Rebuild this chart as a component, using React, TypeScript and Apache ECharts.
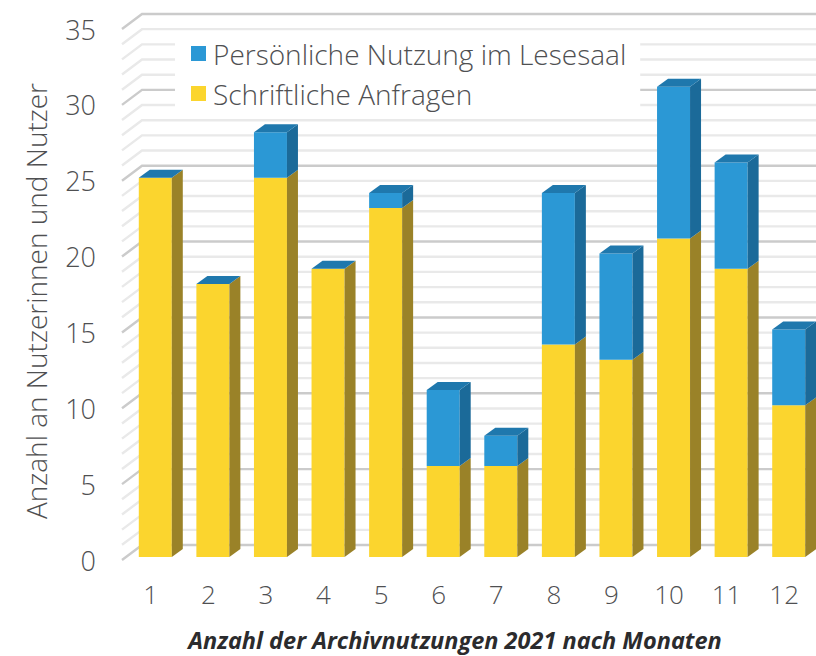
import React, { useEffect, useRef } from "react";
import * as echarts from "echarts";

const months = ["1", "2", "3", "4", "5", "6", "7", "8", "9", "10", "11", "12"];
const schriftlich = [25, 18, 25, 19, 23, 6, 6, 14, 13, 21, 19, 10];
const persoenlich = [0, 0, 3, 0, 1, 5, 2, 10, 7, 10, 7, 5];
const gridValues = [0, 1, 2, 3, 4, 5, 6, 7, 8, 9, 10, 11, 12, 13, 14, 15, 16, 17, 18, 19, 20, 21, 22, 23, 24, 25, 26, 27, 28, 29, 30, 31, 32, 33, 34, 35];
const nameBlue = "Persönliche Nutzung im Lesesaal";
const nameYellow = "Schriftliche Anfragen";
const yTitle = "Anzahl an Nutzerinnen und Nutzer";
const chartTitle = "Anzahl der Archivnutzungen 2021 nach Monaten";

const FONT = "Open Sans";
const TEXT = "#4f5052";
const BAR_W = 33;
const BAR_DX = 11;
const BAR_DY = 8;
const BAR_OFF_X = 4.5;
const BAR_OFF_Y = -3;
const WALL_DX = 20;
const WALL_DY = 15;

const barRender = (front: string, side: string, top: string | null) => (_p: any, api: any) => {
  const i = api.value(0);
  const a = api.coord([i, api.value(1)]);
  const b = api.coord([i, api.value(2)]);
  const x0 = a[0] + BAR_OFF_X - BAR_W / 2;
  const x1 = x0 + BAR_W;
  const yb = a[1] + BAR_OFF_Y;
  const yt = b[1] + BAR_OFF_Y;
  const children: any[] = [];
  if (yb - yt > 0) {
    children.push({ type: "rect", shape: { x: x0, y: yt, width: BAR_W, height: yb - yt }, style: { fill: front } });
    children.push({
      type: "polygon",
      shape: { points: [[x1, yb], [x1 + BAR_DX, yb - BAR_DY], [x1 + BAR_DX, yt - BAR_DY], [x1, yt]] },
      style: { fill: side },
    });
  }
  if (top) {
    children.push({
      type: "polygon",
      shape: { points: [[x0, yt], [x1, yt], [x1 + BAR_DX, yt - BAR_DY], [x0 + BAR_DX, yt - BAR_DY]] },
      style: { fill: top },
    });
  }
  return { type: "group", children };
};

const gridRender = (p: any, api: any) => {
  const v = api.value(1);
  const c = api.coord([0, v]);
  const sys = p.coordSys;
  const x = sys.x;
  const y = c[1];
  return {
    type: "polyline",
    shape: { points: [[x, y], [x + WALL_DX, y - WALL_DY], [x + sys.width + 10, y - WALL_DY]] },
    style: { fill: "none", stroke: v % 5 === 0 ? "#cbcbcb" : "#e9e9e9", lineWidth: 2.4 },
  };
};

export default function App() {
  const ref = useRef<HTMLDivElement>(null);
  useEffect(() => {
    const chart = echarts.init(ref.current!, undefined, { renderer: "svg" });
    chart.setOption({
      animation: false,
      backgroundColor: "#fff",
      grid: { left: 122, right: 3, top: 29, bottom: 96 },
      title: {
        text: chartTitle,
        left: 455,
        textAlign: "center",
        top: 628,
        padding: 0,
        textStyle: { fontFamily: FONT, fontSize: 23.5, lineHeight: 24, fontStyle: "italic", fontWeight: "bold", color: "#2b2b2d" },
      },
      legend: {
        data: [nameBlue, nameYellow],
        orient: "vertical",
        left: 175,
        top: 36,
        padding: [3.5, 14, 3.5, 16],
        backgroundColor: "#fff",
        icon: "rect",
        itemWidth: 15,
        itemHeight: 15,
        itemGap: 12,
        textStyle: { fontFamily: FONT, fontSize: 28, fontWeight: 300, color: TEXT, padding: [0, 0, 6, 2] },
      },
      xAxis: {
        type: "category",
        data: months,
        axisLine: { show: false },
        axisTick: { show: false },
        axisLabel: { fontFamily: FONT, fontSize: 26, fontWeight: 300, color: TEXT, margin: 21 },
      },
      yAxis: {
        type: "value",
        min: 0,
        max: 35,
        interval: 5,
        axisLine: { show: false },
        axisTick: { show: false },
        splitLine: { show: false },
        axisLabel: { fontFamily: FONT, fontSize: 27, fontWeight: 300, color: TEXT, margin: 26 },
        name: yTitle,
        nameLocation: "middle",
        nameGap: 72,
        nameTextStyle: { fontFamily: FONT, fontSize: 28, fontWeight: 300, color: TEXT, padding: [0, 13, 0, 0] },
      },
      series: [
        {
          type: "custom",
          name: "grid",
          z: 1,
          renderItem: gridRender,
          encode: { x: 0, y: 1 },
          data: gridValues.map((v) => [0, v]),
        },
        {
          type: "custom",
          name: nameYellow,
          z: 2,
          itemStyle: { color: "#fbd52e" },
          renderItem: barRender("#fbd52e", "#9a8228", null),
          encode: { x: 0, y: [1, 2] },
          data: months.map((_, i) => [i, 0, schriftlich[i]]),
        },
        {
          type: "custom",
          name: nameBlue,
          z: 3,
          itemStyle: { color: "#2b98d5" },
          renderItem: barRender("#2b98d5", "#1b6a99", "#1f78ad"),
          encode: { x: 0, y: [1, 2] },
          data: months.map((_, i) => [i, schriftlich[i], schriftlich[i] + persoenlich[i]]),
        },
      ],
    });
    return () => chart.dispose();
  }, []);
  return <div ref={ref} style={{ position: "fixed", left: 0, top: 0, width: 816, height: 656 }} />;
}
